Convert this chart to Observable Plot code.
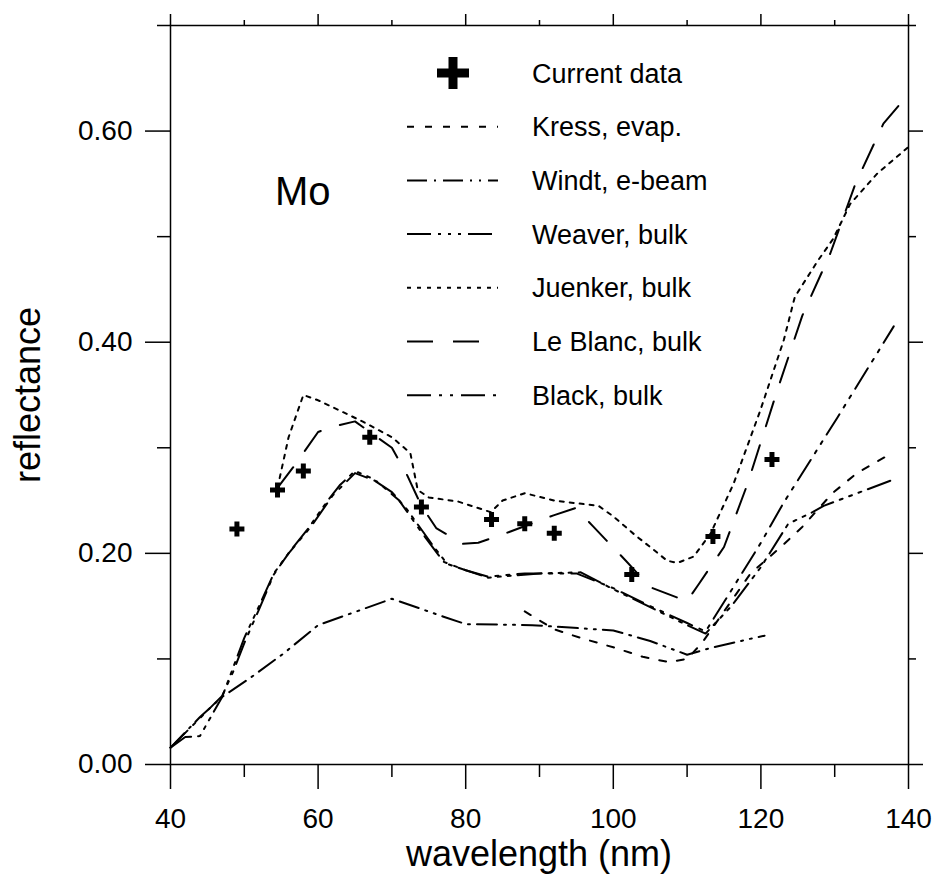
<!DOCTYPE html>
<html><head><meta charset="utf-8">
<script src="https://cdn.jsdelivr.net/npm/d3@7"></script>
<script src="https://cdn.jsdelivr.net/npm/@observablehq/plot@0.6"></script>
<style>body{margin:0;background:#fff}svg{display:block}</style>
</head><body><div id="chart"></div>
<script>
// ---------- data ----------
const currentX = [49, 54.5, 58, 67, 74, 83.5, 88, 92, 102.5, 113.5, 121.5];
const currentY = [0.223, 0.260, 0.278, 0.310, 0.244, 0.232, 0.228, 0.219, 0.180, 0.216, 0.289];

const kressX = [88, 92, 96, 100, 104, 107.5, 110, 112, 115, 118.6, 122.7, 125.6, 129.7, 133, 137.5];
const kressY = [0.145, 0.128, 0.119, 0.111, 0.102, 0.097, 0.100, 0.115, 0.145, 0.181, 0.206, 0.225, 0.257, 0.276, 0.294];

const windtX = [40, 44, 47, 50.8, 55.3, 60, 70, 77, 80, 89, 100, 105, 110, 113, 118.5, 120.5];
const windtY = [0.016, 0.045, 0.064, 0.082, 0.105, 0.132, 0.157, 0.140, 0.133, 0.132, 0.127, 0.117, 0.104, 0.110, 0.119, 0.122];

const weaverX = [40, 42, 44, 47, 48.5, 50, 52, 54, 56.3, 58.7, 61.3, 63, 65, 67, 70, 72, 75.7, 77.5, 83, 90, 95.6, 100, 105, 110, 112.5, 116, 120, 123.7, 127, 128.5, 138];
const weaverY = [0.016, 0.026, 0.027, 0.064, 0.092, 0.120, 0.150, 0.181, 0.203, 0.224, 0.250, 0.265, 0.278, 0.272, 0.258, 0.242, 0.206, 0.190, 0.177, 0.181, 0.182, 0.166, 0.149, 0.132, 0.124, 0.150, 0.187, 0.228, 0.239, 0.245, 0.270];

const juenkerX = [54.5, 56, 58, 60, 63, 66, 70, 72.5, 73.5, 75, 79, 83.4, 85, 88, 92, 98, 100, 103, 105, 107.3, 108.7, 110.9, 113.2, 116.3, 119.9, 123.1, 124.6, 127.7, 129.8, 132.1, 135.8, 140];
const juenkerY = [0.262, 0.310, 0.350, 0.345, 0.335, 0.325, 0.310, 0.295, 0.260, 0.253, 0.249, 0.239, 0.250, 0.257, 0.250, 0.245, 0.235, 0.217, 0.206, 0.193, 0.191, 0.197, 0.219, 0.266, 0.335, 0.402, 0.443, 0.477, 0.498, 0.531, 0.560, 0.585];

const leblancX = [54.5, 57, 60, 62, 65, 67, 70, 72, 74, 76, 79.6, 81.7, 85.8, 91.9, 94.9, 97.2, 101.7, 105, 108.7, 110, 111.5, 115, 118.2, 122.2, 125.6, 129.4, 132.8, 136.6, 140];
const leblancY = [0.262, 0.285, 0.315, 0.320, 0.325, 0.315, 0.300, 0.275, 0.245, 0.224, 0.209, 0.210, 0.220, 0.236, 0.243, 0.226, 0.193, 0.168, 0.158, 0.155, 0.170, 0.206, 0.266, 0.354, 0.425, 0.484, 0.550, 0.607, 0.635];

const blackX = [40, 47, 48.5, 50, 52, 54, 56, 59, 62, 65, 68, 71, 74, 77, 80, 83, 88, 95, 100, 105, 110, 112.5, 116, 120, 123, 130.4, 138];
const blackY = [0.016, 0.065, 0.088, 0.115, 0.147, 0.180, 0.200, 0.225, 0.255, 0.276, 0.268, 0.250, 0.220, 0.192, 0.184, 0.178, 0.181, 0.181, 0.167, 0.150, 0.134, 0.126, 0.165, 0.210, 0.247, 0.329, 0.415];

const xMajor = [40, 60, 80, 100, 120, 140];
const xMinor = [50, 70, 90, 110, 130];
const yMajor = [0, 0.2, 0.4, 0.6];
const yMinor = [0.1, 0.3, 0.5, 0.7];

const legendLabels = ["Current data", "Kress, evap.", "Windt, e-beam", "Weaver, bulk", "Juenker, bulk", "Le Blanc, bulk", "Black, bulk"];
const dashes = {
  kress: "7,11",
  windt: "20,7,2,7,20,7,2,7,2,7",
  weaver: "24,7,3,7,3,7,3,7",
  juenker: "4,6",
  leblanc: "26,20",
  black: "24,8,3,8,3,8"
};
const legendDashes = [null, dashes.kress, dashes.windt, dashes.weaver, dashes.juenker, dashes.leblanc, dashes.black];

// ---------- chart ----------
const FONT = "'Liberation Sans', Arial, Helvetica, sans-serif";
function series(X, Y, dash) {
  return Plot.line(d3.range(X.length), {x: i => X[i], y: i => Y[i], stroke: "black", strokeWidth: 2, strokeDasharray: dash});
}
const blank = () => "";

const chart = Plot.plot({
  width: 936, height: 879,
  marginTop: 25, marginBottom: 115, marginLeft: 170, marginRight: 28,
  style: {fontFamily: FONT, color: "black", background: "white"},
  x: {domain: [40, 140]},
  y: {domain: [0, 0.7]},
  marks: [
    Plot.axisY({ticks: yMajor, tickSize: 25, tickPadding: 13, tickFormat: d3.format(".2f"), fontSize: 28, label: null, strokeWidth: 1.5}),
    Plot.axisY({ticks: yMinor, tickSize: 13, tickFormat: blank, label: null, strokeWidth: 1.5}),
    Plot.axisY({anchor: "right", ticks: yMajor, tickSize: 14, tickFormat: blank, label: null, strokeWidth: 1.5}),
    Plot.axisY({anchor: "right", ticks: yMinor, tickSize: 7, tickFormat: blank, label: null, strokeWidth: 1.5}),
    Plot.axisX({ticks: xMajor, tickSize: 25, tickPadding: 19, fontSize: 28, label: null, strokeWidth: 1.5}),
    Plot.axisX({ticks: xMinor, tickSize: 13, tickFormat: blank, label: null, strokeWidth: 1.5}),
    Plot.axisX({anchor: "top", ticks: xMajor, tickSize: 12, tickFormat: blank, label: null, strokeWidth: 1.5}),
    Plot.axisX({anchor: "top", ticks: xMinor, tickSize: 6, tickFormat: blank, label: null, strokeWidth: 1.5}),
    Plot.frame({stroke: "black", strokeWidth: 1.5}),
    series(kressX, kressY, dashes.kress),
    series(windtX, windtY, dashes.windt),
    series(weaverX, weaverY, dashes.weaver),
    series(juenkerX, juenkerY, dashes.juenker),
    series(leblancX, leblancY, dashes.leblanc),
    series(blackX, blackY, dashes.black),
    Plot.dot(d3.range(currentX.length), {x: i => currentX[i], y: i => currentY[i], symbol: "cross", r: 6.3, fill: "black", stroke: "none"})
  ]
});
document.getElementById("chart").appendChild(chart);

// ---------- overlay text and legend ----------
const svg = d3.select(chart);
const g = svg.append("g").attr("font-family", FONT).attr("fill", "black").attr("text-anchor", "start");

g.append("text").attr("x", 539).attr("y", 866).attr("text-anchor", "middle").attr("font-size", 36).text("wavelength (nm)");
g.append("text").attr("transform", "translate(40,395) rotate(-90)").attr("text-anchor", "middle").attr("font-size", 36).text("reflectance");
g.append("text").attr("x", 275).attr("y", 205).attr("text-anchor", "start").attr("font-size", 40).text("Mo");

const rowY0 = 73, rowStep = 53.7;
legendLabels.forEach((lab, i) => {
  const cy = rowY0 + rowStep * i;
  if (i === 0) {
    g.append("rect").attr("x", 437).attr("y", cy - 4.5).attr("width", 32).attr("height", 9);
    g.append("rect").attr("x", 448.5).attr("y", cy - 16).attr("width", 9).attr("height", 32);
  } else {
    g.append("line").attr("x1", 407).attr("x2", 498).attr("y1", cy).attr("y2", cy)
      .attr("stroke", "black").attr("stroke-width", 2).attr("stroke-dasharray", legendDashes[i]);
  }
  g.append("text").attr("x", 532).attr("y", cy + 9.5).attr("text-anchor", "start").attr("font-size", 27).text(lab);
});
</script></body></html>
